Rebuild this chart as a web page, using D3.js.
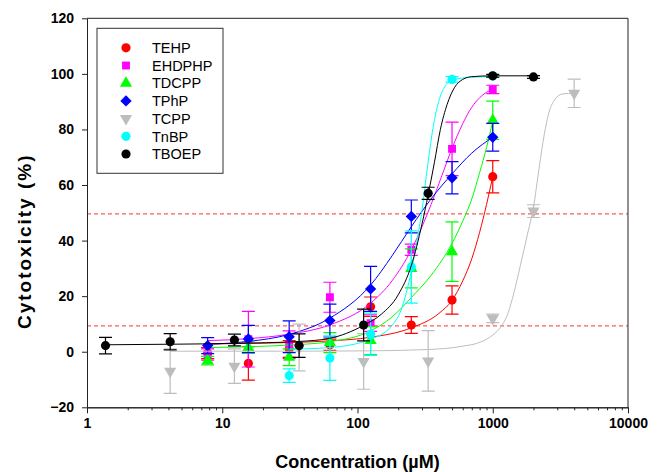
<!DOCTYPE html>
<html>
<head>
<meta charset="utf-8">
<script src="https://cdn.jsdelivr.net/npm/d3@7"></script>
<style>
  body { margin: 0; background: #fff; }
  svg { display: block; }
  .axis text { font-family: "Liberation Sans", Arial, sans-serif; font-weight: bold; font-size: 14px; fill: #000; }
  .axis path, .axis line { stroke: #222; }
</style>
</head>
<body>
<div class="chart"></div>
<script>
// Concentrations (uM) per dilution series.
const concMain = [7.8, 15.6, 31.25, 62.5, 125, 250, 500, 1000];
const concTnbp = [31.25, 62.5, 125, 250, 500, 1000];
const concTboep = [1.37, 4.12, 12.3, 37, 111, 333, 1000, 2000];
const concTcpp = [4.12, 12.3, 37, 111, 333, 1000, 2000, 4000];

// Mean cytotoxicity (%) and error (+/-).
const tehpMean = [-0.5, -4.2, 1, 2.5, 16.2, 9.6, 18.6, 63];
const tehpErr = [2, 6, 3, 2, 3.5, 3, 5.1, 5.8];
const ehdphpMean = [-1, 4.5, 2.5, 19.6, 10.3, 36.7, 73, 94.4];
const ehdphpErr = [2, 10, 5, 5.4, 3, 2, 9.6, 1.5];
const tdcppMean = [-3.2, 1.5, -2, 3.3, 4, 30, 36, 83.3];
const tdcppErr = [1.5, 2, 3, 3.6, 5, 7, 10.7, 6.9];
const tphpMean = [2.2, 4.6, 5.4, 11.2, 22.6, 48.7, 62.6, 77.2];
const tphpErr = [2.9, 4.9, 5.7, 5.9, 8.1, 5.9, 5.8, 5];
const tcppMean = [-7, -5.2, 1.5, -3.5, -3.3, 12, 50.6, 93];
const tcppErr = [8, 6.2, 8.4, 10, 10.9, 1.5, 2.3, 5.1];
const tnbpMean = [-8.6, -2.3, 6.3, 30.5, 98, 99.2];
const tnbpErr = [2.4, 8, 7.6, 13, 1, 0.5];
const tboepMean = [2.2, 3.6, 4.2, 2.2, 9.6, 57, 99.3, 98.9];
const tboepErr = [3, 2.9, 2.1, 4.2, 5.7, 2.2, 0.5, 0.5];

// Fitted curves as [concentration, %].
const tehpCurve = [[7.8, 2.8], [15.6, 3], [31, 3.3], [62, 3.9], [125, 5.2], [250, 8.6], [400, 13.8], [500, 18.5], [600, 25.5], [700, 33.5], [800, 43], [900, 53], [1000, 63]];
const ehdphpCurve = [[7.8, 4], [15.6, 4.7], [31, 6.3], [62, 9.6], [125, 17.5], [180, 25.5], [250, 36.7], [300, 45], [350, 53], [420, 63.3], [500, 73.2], [600, 82.1], [700, 88], [800, 91.4], [1000, 94.6]];
const tdcppCurve = [[7.8, 1.5], [15.6, 1.8], [31, 2.4], [62, 3.6], [125, 7.5], [180, 12.5], [250, 19.5], [350, 27.5], [500, 39], [600, 47], [700, 55], [800, 64.5], [900, 73.5], [1000, 83]];
const tphpCurve = [[7.8, 2.7], [15.6, 3.7], [31, 6.2], [62, 12], [125, 24], [180, 34.5], [250, 45], [350, 55], [500, 64], [700, 71.5], [1000, 77.2]];
const tcppCurve = [[4.12, 0.2], [12.3, 0.2], [37, 0.2], [111, 0.3], [333, 0.8], [600, 2], [815, 3.5], [1000, 6], [1150, 9], [1300, 14], [1430, 21], [1600, 31], [1800, 42], [2000, 52], [2200, 66], [2400, 78], [2600, 86], [2900, 91], [3300, 92.8], [4000, 93]];
const tnbpCurve = [[31, 0.9], [62, 1.5], [125, 4.5], [180, 9.5], [210, 15], [250, 29], [280, 42], [300, 51], [330, 67], [366, 82], [410, 92], [460, 96.5], [500, 97.8], [700, 98.8], [1000, 99]];
const tboepCurve = [[1.37, 2.5], [4.12, 2.7], [12.3, 3], [37, 3.7], [62, 4.8], [111, 9.5], [150, 13.5], [200, 20.5], [250, 31], [300, 46], [333, 56.5], [370, 68], [410, 80], [460, 89], [520, 95], [600, 98], [700, 99], [1000, 99.3], [2000, 99.3]];

const seriesNames = ['TEHP', 'EHDPHP', 'TDCPP', 'TPhP', 'TCPP', 'TnBP', 'TBOEP'];
const seriesColors = ['#ff0000', '#ff00ff', '#00ff00', '#0000ff', '#bdbdbd', '#00ffff', '#000000'];
const seriesSymbols = ['circle', 'square', 'triangle', 'diamond', 'triangleDown', 'circle', 'circle'];

const thresholds = [49.6, 9.3];
const xTicks = [1, 10, 100, 1000, 10000];
const yTicks = [-20, 0, 20, 40, 60, 80, 100, 120];

const series = [
  { conc: concMain, mean: tehpMean, err: tehpErr, curve: tehpCurve },
  { conc: concMain, mean: ehdphpMean, err: ehdphpErr, curve: ehdphpCurve },
  { conc: concMain, mean: tdcppMean, err: tdcppErr, curve: tdcppCurve },
  { conc: concMain, mean: tphpMean, err: tphpErr, curve: tphpCurve },
  { conc: concTcpp, mean: tcppMean, err: tcppErr, curve: tcppCurve },
  { conc: concTnbp, mean: tnbpMean, err: tnbpErr, curve: tnbpCurve },
  { conc: concTboep, mean: tboepMean, err: tboepErr, curve: tboepCurve }
].map((s, i) => Object.assign(s, { name: seriesNames[i], color: seriesColors[i], symbol: seriesSymbols[i] }));

// Dimensions.
const margin = { top: 18.3, right: 33, bottom: 64.7, left: 87 };
const width = 661 - margin.left - margin.right;
const height = 472 - margin.top - margin.bottom;

const xScale = d3.scaleLog().domain([1, 10000]).range([0, width]);
const yScale = d3.scaleLinear().domain([-20, 120]).range([height, 0]);

const svg = d3.select('.chart')
  .append('svg')
  .attr('width', 661)
  .attr('height', 472)
  .append('g')
  .attr('transform', `translate(${margin.left}, ${margin.top})`);

svg.append('defs').append('clipPath').attr('id', 'plot-clip')
  .append('rect').attr('width', width).attr('height', height);

// Symbol helper.
function symbolPath(kind, size) {
  if (kind === 'square') return d3.symbol(d3.symbolSquare, size || 62)();
  if (kind === 'diamond') return d3.symbol(d3.symbolSquare, size || 64)();
  if (kind === 'triangle' || kind === 'triangleDown') return d3.symbol(d3.symbolTriangle, size || 64)();
  return d3.symbol(d3.symbolCircle, size || 66)();
}
function symbolRotate(kind) {
  if (kind === 'diamond') return ' rotate(45)';
  if (kind === 'triangleDown') return ' rotate(180)';
  return '';
}

// Threshold lines.
svg.append('g')
  .selectAll('line')
  .data(thresholds)
  .enter()
  .append('line')
  .attr('x1', 0)
  .attr('x2', width)
  .attr('y1', d => yScale(d))
  .attr('y2', d => yScale(d))
  .style('stroke', '#ff5a5a')
  .style('stroke-width', 1.4)
  .style('stroke-dasharray', '4,3');

const lineGen = d3.line()
  .x(d => xScale(d[0]))
  .y(d => yScale(d[1]))
  .curve(d3.curveMonotoneX);

const plot = svg.append('g').attr('clip-path', 'url(#plot-clip)');

series.forEach(s => {
  const g = plot.append('g').attr('class', 'series ' + s.name.toLowerCase());
  const pts = s.conc.map((c, i) => ({ c: c, v: s.mean[i], e: s.err[i] }));

  g.append('path')
    .attr('d', lineGen(s.curve))
    .style('fill', 'none')
    .style('stroke', s.color)
    .style('stroke-width', 1);

  const bars = g.selectAll('.err').data(pts).enter().append('g').attr('class', 'err');
  bars.append('line')
    .attr('x1', d => xScale(d.c)).attr('x2', d => xScale(d.c))
    .attr('y1', d => yScale(d.v + d.e)).attr('y2', d => yScale(d.v - d.e));
  bars.append('line')
    .attr('x1', d => xScale(d.c) - 6.5).attr('x2', d => xScale(d.c) + 6.5)
    .attr('y1', d => yScale(d.v + d.e)).attr('y2', d => yScale(d.v + d.e));
  bars.append('line')
    .attr('x1', d => xScale(d.c) - 6.5).attr('x2', d => xScale(d.c) + 6.5)
    .attr('y1', d => yScale(d.v - d.e)).attr('y2', d => yScale(d.v - d.e));
  bars.selectAll('line').style('stroke', s.color).style('stroke-width', 1.2);

  g.selectAll('.pt')
    .data(pts)
    .enter()
    .append('path')
    .attr('class', 'pt')
    .attr('d', symbolPath(s.symbol))
    .attr('transform', d => `translate(${xScale(d.c)}, ${yScale(d.v)})` + symbolRotate(s.symbol))
    .style('fill', s.color);
});

// Axes.
const minorTicks = [];
for (let dec = 1; dec < 10000; dec *= 10) {
  for (let k = 2; k <= 9; k++) minorTicks.push(dec * k);
}

svg.append('g')
  .attr('class', 'x axis')
  .attr('transform', `translate(0, ${height})`)
  .call(d3.axisBottom(xScale).tickValues(minorTicks).tickSize(3).tickFormat('').tickSizeOuter(0));

svg.append('g')
  .attr('class', 'x axis')
  .attr('transform', `translate(0, ${height})`)
  .call(d3.axisBottom(xScale).tickValues(xTicks).tickSize(6).tickPadding(5).tickFormat(d3.format('d')).tickSizeOuter(0));

svg.append('g')
  .attr('class', 'y axis')
  .call(d3.axisLeft(yScale).tickValues(yTicks).tickSize(5).tickPadding(8).tickSizeOuter(0));

// Frame top and right.
svg.append('path')
  .attr('d', `M0,0H${width}V${height}`)
  .style('fill', 'none')
  .style('stroke', '#222');

// Axis titles.
svg.append('text')
  .attr('x', width / 2)
  .attr('y', height + 61)
  .attr('text-anchor', 'middle')
  .style('font-family', '"Liberation Sans", Arial, sans-serif')
  .style('font-weight', 'bold')
  .style('font-size', '18px')
  .text('Concentration (\u00b5M)');

svg.append('text')
  .attr('transform', `translate(${-56}, ${223}) rotate(-90)`)
  .attr('text-anchor', 'middle')
  .style('font-family', '"Liberation Sans", Arial, sans-serif')
  .style('font-weight', 'bold')
  .style('font-size', '19px')
  .style('letter-spacing', '2px')
  .text('Cytotoxicity (%)');

// Legend.
const legend = svg.append('g').attr('transform', 'translate(10, 10)');
legend.append('rect')
  .attr('width', 126)
  .attr('height', 145)
  .style('fill', '#fff')
  .style('stroke', '#333');

const legendRows = legend.selectAll('.legend-row')
  .data(series)
  .enter()
  .append('g')
  .attr('class', 'legend-row')
  .attr('transform', (d, i) => `translate(29, ${19.5 + i * 17.7})`);

legendRows.append('path')
  .attr('d', d => symbolPath(d.symbol))
  .attr('transform', d => symbolRotate(d.symbol).trim())
  .style('fill', d => d.color);

legendRows.append('text')
  .attr('x', 26)
  .attr('dy', '0.36em')
  .style('font-family', '"Liberation Sans", Arial, sans-serif')
  .style('font-size', '14.5px')
  .text(d => d.name);
</script>
</body>
</html>
